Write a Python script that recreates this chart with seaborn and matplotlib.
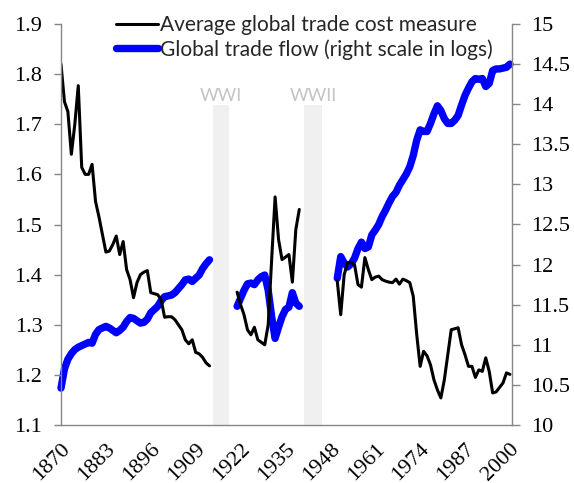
import matplotlib
matplotlib.use("Agg")
import matplotlib.pyplot as plt
from matplotlib.lines import Line2D
import pandas as pd
import seaborn as sns

# trade cost measure (left axis) and log trade flow (right axis), by period
years_pre = list(range(1870, 1914))
cost_pre = [1.82, 1.745, 1.725, 1.64, 1.70, 1.777, 1.614, 1.60, 1.60, 1.62,
            1.546, 1.515, 1.48, 1.445, 1.447, 1.46, 1.477, 1.44, 1.466, 1.41,
            1.39, 1.354, 1.384, 1.40, 1.405, 1.408, 1.364, 1.362, 1.36, 1.35,
            1.315, 1.316, 1.316, 1.31, 1.30, 1.29, 1.27, 1.262, 1.27, 1.245,
            1.242, 1.235, 1.224, 1.218]
flow_pre = [10.46, 10.70, 10.82, 10.89, 10.94, 10.97, 10.99, 11.01, 11.03, 11.02,
            11.13, 11.19, 11.21, 11.23, 11.21, 11.18, 11.15, 11.18, 11.22, 11.29,
            11.34, 11.33, 11.30, 11.27, 11.28, 11.32, 11.40, 11.44, 11.48, 11.55,
            11.60, 11.61, 11.62, 11.65, 11.70, 11.75, 11.81, 11.82, 11.79, 11.83,
            11.87, 11.95, 12.01, 12.06]

years_mid = list(range(1921, 1940))
cost_mid = [1.365, 1.34, 1.32, 1.29, 1.28, 1.295, 1.27, 1.265, 1.26, 1.30,
            1.43, 1.555, 1.47, 1.43, 1.435, 1.44, 1.385, 1.49, 1.53]
flow_mid = [11.48, 11.58, 11.68, 11.76, 11.77, 11.75, 11.81, 11.85, 11.87, 11.68,
            11.35, 11.08, 11.22, 11.35, 11.44, 11.47, 11.65, 11.52, 11.48]

years_post = list(range(1950, 2001))
cost_post = [1.387, 1.32, 1.40, 1.424, 1.424, 1.42, 1.38, 1.375, 1.434, 1.41,
             1.39, 1.395, 1.397, 1.39, 1.387, 1.385, 1.384, 1.391, 1.381, 1.391,
             1.388, 1.384, 1.357, 1.281, 1.217, 1.247, 1.238, 1.22, 1.19, 1.17,
             1.154, 1.19, 1.24, 1.29, 1.292, 1.294, 1.26, 1.24, 1.217, 1.217,
             1.195, 1.21, 1.207, 1.234, 1.207, 1.164, 1.166, 1.175, 1.184, 1.204,
             1.201]
flow_post = [11.83, 12.10, 12.02, 11.97, 12.01, 12.08, 12.20, 12.28, 12.20, 12.22,
             12.37, 12.43, 12.50, 12.60, 12.68, 12.77, 12.85, 12.90, 12.99, 13.06,
             13.13, 13.22, 13.36, 13.55, 13.68, 13.66, 13.66, 13.76, 13.88, 13.98,
             13.92, 13.82, 13.76, 13.76, 13.80, 13.86, 13.99, 14.11, 14.20, 14.28,
             14.32, 14.31, 14.32, 14.22, 14.26, 14.42, 14.44, 14.44, 14.45, 14.46,
             14.50]

wars = [("WWI", 1914, 1918.6), ("WWII", 1940.4, 1945.6)]
year_ticks = [1870, 1883, 1896, 1909, 1922, 1935, 1948, 1961, 1974, 1987, 2000]
left_ticks = [1.1, 1.2, 1.3, 1.4, 1.5, 1.6, 1.7, 1.8, 1.9]
right_ticks = [10, 10.5, 11, 11.5, 12, 12.5, 13, 13.5, 14, 14.5, 15]

sns.set_theme(style="white")
plt.rcParams["font.family"] = ["Liberation Serif", "DejaVu Serif"]
sans = ["Lato", "DejaVu Sans"]
grey = "#868686"

fig = plt.figure(figsize=(5.74, 4.83), dpi=100)
ax = fig.add_axes([61 / 574, 58 / 483, 451 / 574, 401 / 483])
ax2 = ax.twinx()
ax.set_zorder(ax2.get_zorder() + 1)
ax.patch.set_visible(False)

# shaded war periods
for name, start, end in wars:
    ax2.axvspan(start, end, ymin=0, ymax=(1.738 - 1.1) / 0.8, color="#f0f0f0", lw=0, zorder=0)
    ax.text((start + end) / 2, 1.757, name, ha="center", va="center",
            color="#c4c4c4", fontsize=13, family=sans)

periods = [(years_pre, cost_pre, flow_pre),
           (years_mid, cost_mid, flow_mid),
           (years_post, cost_post, flow_post)]
for yrs, cost, flow in periods:
    df = pd.DataFrame({"year": yrs, "cost": cost, "flow": flow})
    sns.lineplot(data=df, x="year", y="flow", ax=ax2, color="#0000ff", lw=5.3,
                 solid_capstyle="round", clip_on=False)
    sns.lineplot(data=df, x="year", y="cost", ax=ax, color="black", lw=2.2)

ax.set_xlim(1870, 2000.6)
ax.set_ylim(1.1, 1.9)
ax2.set_ylim(10, 15)
ax.set_xticks(year_ticks)
ax.set_xticklabels([str(y) for y in year_ticks], rotation=45, ha="right",
                   rotation_mode="anchor")
ax.set_yticks(left_ticks)
ax.set_yticklabels([f"{v:g}" for v in left_ticks])
ax2.set_yticks(right_ticks)
ax2.set_yticklabels([f"{v:g}" for v in right_ticks])
ax.set_xlabel("")
ax.set_ylabel("")
ax2.set_ylabel("")

for a in (ax, ax2):
    a.tick_params(axis="both", which="major", direction="out", length=5.4, width=1,
                  color=grey, labelsize=16, labelcolor="black", pad=8)
    a.spines["top"].set_visible(False)
    for side in ("left", "right", "bottom"):
        a.spines[side].set_color(grey)
        a.spines[side].set_linewidth(1)
ax.spines["right"].set_visible(False)
ax2.spines["left"].set_visible(False)
ax2.spines["bottom"].set_visible(False)
ax.tick_params(axis="x", pad=5)
ax.grid(False)
ax2.grid(False)

handles = [Line2D([], [], color="black", lw=2.2),
           Line2D([], [], color="#0000ff", lw=5.3)]
labels = ["Average global trade cost measure",
          "Global trade flow (right scale in logs)"]
fig.legend(handles, labels, loc="upper left", bbox_to_anchor=(116 / 574, 1 - 15 / 483),
           frameon=False, prop={"family": sans, "size": 15}, handlelength=2.0,
           handletextpad=0.1, borderpad=0, borderaxespad=0, labelspacing=0.2)

fig.savefig("out.png", dpi=100)
